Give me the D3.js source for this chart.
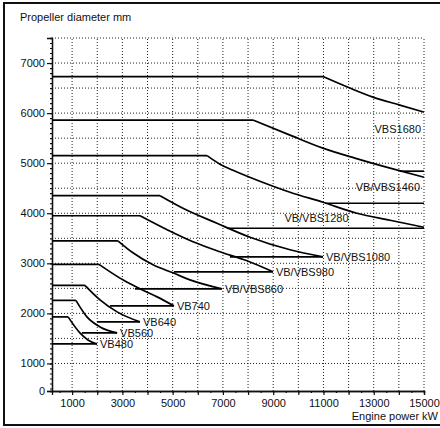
<!DOCTYPE html>
<html>
<head>
<meta charset="utf-8">
<script src="https://cdn.jsdelivr.net/npm/d3@7"></script>
<style>
  html, body { margin: 0; padding: 0; background: #fff; }
  svg { display: block; }
  text { font-family: "Liberation Sans", Arial, sans-serif; fill: #111; }
</style>
</head>
<body>
<div id="chart"></div>
<script>
// propeller series, top to bottom
var seriesNames = ['VBS1680', 'VB/VBS1460', 'VB/VBS1280', 'VB/VBS1080', 'VB/VBS980',
  'VB/VBS860', 'VB740', 'VB640', 'VB560', 'VB480'];
var maxDiameter = [6730, 5860, 5150, 4350, 3950, 3450, 2980, 2560, 2260, 1930];
var kneePower = [10980, 8200, 6370, 4500, 3700, 2820, 2070, 1510, 1150, 840];
var curvePower = [
  [12050, 12970, 14040, 15000],
  [9670, 10980, 12250, 13650, 15000],
  [6880, 7400, 8470, 9670, 10980, 12330, 13650, 15000],
  [5410, 6760, 8080, 9670, 10980],
  [4780, 5810, 6880, 7960, 8990],
  [3420, 4220, 5010, 5690, 6960],
  [3020, 3700, 4380, 5050],
  [2110, 2790, 3700],
  [1590, 2110, 2790],
  [1310, 1630, 1990]
];
var curveDiameter = [
  [6500, 6320, 6160, 6020],
  [5560, 5300, 5100, 4900, 4720],
  [4980, 4860, 4640, 4420, 4220, 4000, 3860, 3720],
  [4100, 3800, 3520, 3270, 3130],
  [3670, 3430, 3230, 3050, 2830],
  [3210, 2970, 2810, 2670, 2490],
  [2670, 2490, 2330, 2150],
  [2270, 2030, 1830],
  [1930, 1730, 1610],
  [1610, 1470, 1390]
];
var minDiameter = [4840, 4200, 3700, 3130, 2830, 2490, 2150, 1830, 1610, 1390];
var minStartPower = [14040, 11060, 7160, 7280, 5050, 3500, 2510, 1990, 1390, 200];
var minEndPower = [15000, 15000, 15000, 10980, 8990, 6960, 5050, 3700, 2790, 1990];

var xTicks = [1000, 2000, 3000, 4000, 5000, 6000, 7000, 8000, 9000, 10000, 11000, 12000, 13000, 14000, 15000];
var yTicks = [450, 1000, 2000, 3000, 4000, 5000, 6000, 7000];
var yTickLabels = ['0', '1000', '2000', '3000', '4000', '5000', '6000', '7000'];

var W = 440, H = 428;
var svg = d3.select('#chart').append('svg').attr('width', W).attr('height', H);

var x = d3.scaleLinear().domain([200, 15000]).range([52, 424]);
var y = d3.scaleLinear().domain([450, 7500]).range([391, 38]);

// outer frame
svg.append('rect').attr('x', 4).attr('y', 3).attr('width', 440).attr('height', 422)
  .attr('fill', 'none').attr('stroke', '#111').attr('stroke-width', 2);

// dotted grid
var grid = svg.append('g').attr('stroke', '#222').attr('stroke-width', 1).attr('stroke-dasharray', '1,2');
grid.selectAll('line.v').data(xTicks).enter().append('line')
  .attr('x1', function (d) { return x(d); }).attr('x2', function (d) { return x(d); })
  .attr('y1', y(450)).attr('y2', y(7500));
grid.selectAll('line.h').data(d3.range(1000, 7501, 500)).enter().append('line')
  .attr('y1', function (d) { return y(d); }).attr('y2', function (d) { return y(d); })
  .attr('x1', x(200)).attr('x2', x(15000));

// axes
function styleAxis(g) {
  g.selectAll('path.domain').attr('stroke', '#111').attr('stroke-width', 1.3);
  g.selectAll('line').attr('stroke', '#111').attr('stroke-width', 1.2);
  g.selectAll('text').attr('font-family', '"Liberation Sans", Arial, sans-serif')
    .attr('font-size', 11).attr('fill', '#111');
}

var yMinor = svg.append('g').attr('transform', 'translate(' + x(200) + ',0)')
  .call(d3.axisLeft(y).tickValues(d3.range(500, 7501, 100)).tickSize(2).tickFormat(''));
styleAxis(yMinor);
var yAxis = svg.append('g').attr('transform', 'translate(' + x(200) + ',0)')
  .call(d3.axisLeft(y).tickValues(yTicks).tickSize(5).tickPadding(2)
    .tickFormat(function (d, i) { return yTickLabels[i]; }));
styleAxis(yAxis);

var xMinor = svg.append('g').attr('transform', 'translate(0,' + y(450) + ')')
  .call(d3.axisBottom(x).tickValues(d3.range(500, 15001, 500)).tickSize(2).tickFormat(''));
styleAxis(xMinor);
var xAxis = svg.append('g').attr('transform', 'translate(0,' + y(450) + ')')
  .call(d3.axisBottom(x).tickValues(xTicks).tickSize(4).tickPadding(4)
    .tickFormat(function (d) { return (d / 1000) % 2 === 1 ? String(d) : ''; }));
styleAxis(xAxis);

// titles
svg.append('text').attr('x', 20).attr('y', 21).attr('font-size', 11).text('Propeller diameter mm');
svg.append('text').attr('x', 438).attr('y', 420).attr('text-anchor', 'end').attr('font-size', 11).text('Engine power kW');

// series
var lineG = svg.append('g').attr('fill', 'none').attr('stroke', '#000').attr('stroke-width', 1.7);
var curve = d3.line().x(function (d) { return x(d[0]); }).y(function (d) { return y(d[1]); })
  .curve(d3.curveMonotoneX);

seriesNames.forEach(function (name, i) {
  // max diameter line
  lineG.append('line')
    .attr('x1', x(200)).attr('x2', x(kneePower[i]))
    .attr('y1', y(maxDiameter[i])).attr('y2', y(maxDiameter[i]));
  // limiting curve
  var pts = [[kneePower[i], maxDiameter[i]]].concat(curvePower[i].map(function (p, j) {
    return [p, curveDiameter[i][j]];
  }));
  lineG.append('path').attr('d', curve(pts));
  // min diameter line
  lineG.append('line')
    .attr('x1', x(minStartPower[i])).attr('x2', x(minEndPower[i]))
    .attr('y1', y(minDiameter[i])).attr('y2', y(minDiameter[i]));
});

// labels: inner series sit at curve end, the three wide ones are placed on the right
var labelG = svg.append('g').attr('font-size', 11);
seriesNames.forEach(function (name, i) {
  var t = labelG.append('text').attr('dominant-baseline', 'middle').text(name);
  if (i === 0) {
    t.attr('x', x(15000) - 3).attr('y', y(5660)).attr('text-anchor', 'end');
  } else if (i === 1) {
    t.attr('x', x(15000) - 4).attr('y', y(minDiameter[i]) - 15).attr('text-anchor', 'end');
  } else if (i === 2) {
    t.attr('x', x(12000)).attr('y', y(minDiameter[i]) - 9).attr('text-anchor', 'end');
  } else {
    t.attr('x', x(minEndPower[i]) + 3).attr('y', y(minDiameter[i]) + 1);
  }
});
</script>
</body>
</html>
